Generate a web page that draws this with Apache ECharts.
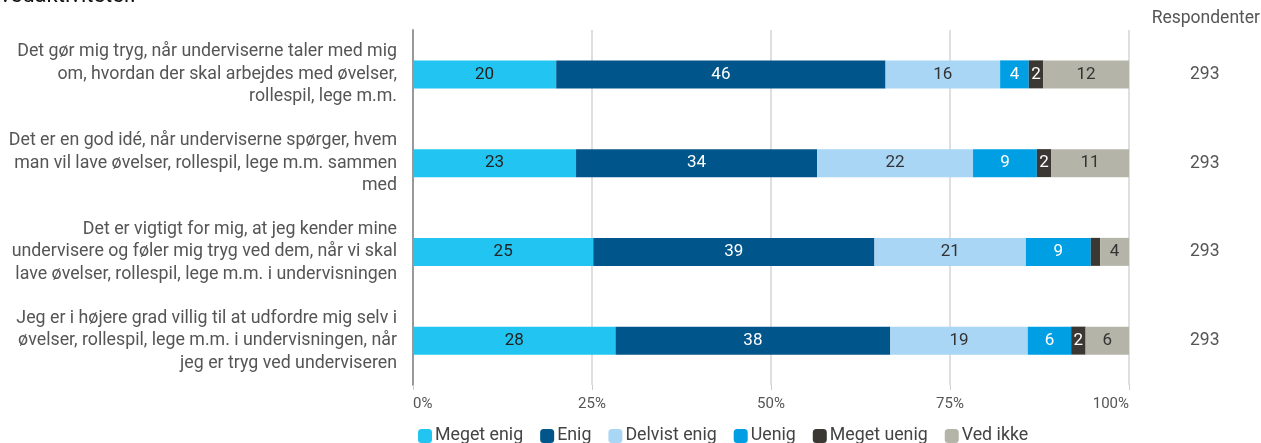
<!DOCTYPE html>
<html>
<head>
<meta charset="utf-8">
<script src="https://cdn.jsdelivr.net/npm/echarts@6/dist/echarts.min.js"></script>
<style>html,body{margin:0;padding:0;background:#fff}#c{width:1261px;height:443px}</style>
</head>
<body>
<div id="c"></div>
<script>
const categories = [
  "Det gør mig tryg, når underviserne taler med mig\nom, hvordan der skal arbejdes med øvelser,\nrollespil, lege m.m.",
  "Det er en god idé, når underviserne spørger, hvem\nman vil lave øvelser, rollespil, lege m.m. sammen\nmed",
  "Det er vigtigt for mig, at jeg kender mine\nundervisere og føler mig tryg ved dem, når vi skal\nlave øvelser, rollespil, lege m.m. i undervisningen",
  "Jeg er i højere grad villig til at udfordre mig selv i\nøvelser, rollespil, lege m.m. i undervisningen, når\njeg er tryg ved underviseren"
];
const respondents = [293, 293, 293, 293];
const seriesNames = ["Meget enig", "Enig", "Delvist enig", "Uenig", "Meget uenig", "Ved ikke"];
const megetEnig  = [20, 23, 25, 28];
const enig       = [46, 34, 39, 38];
const delvistEnig= [16, 22, 21, 19];
const uenig      = [4, 9, 9, 6];
const megetUenig = [2, 2, 1.3, 2];
const vedIkke    = [12, 11, 4, 6];
const xTicks = ["0%", "25%", "50%", "75%", "100%"];

const colors = ["#22c4f2", "#00558a", "#a9d6f5", "#009fe3", "#3b3833", "#b4b5a8"];
const labelColors = ["#222", "#fff", "#333", "#fff", "#fff", "#333"];
const allSeries = [megetEnig, enig, delvistEnig, uenig, megetUenig, vedIkke];
const totals = categories.map((_, i) => allSeries.reduce((s, arr) => s + arr[i], 0));

const chart = echarts.init(document.getElementById('c'));
chart.setOption({
  animation: false,
  textStyle: { fontFamily: 'Roboto' },
  graphic: [{
    type: 'text', left: 0, top: -15,
    style: { text: 'vedaktiviteter.', font: '22px Roboto', fill: '#111' }
  }],
  title: {
    text: 'Respondenter', right: 1, top: 10, padding: 0,
    textStyle: { fontSize: 17.5, fontWeight: 'normal', color: '#555', fontFamily: 'Roboto' }
  },
  legend: {
    left: 418, top: 427, padding: 0, itemWidth: 14, itemHeight: 14, itemGap: 17,
    icon: 'roundRect',
    textStyle: { fontSize: 17.8, color: '#444', padding: [0, 0, 0, -2] },
    data: seriesNames
  },
  grid: { left: 413, right: 132, top: 30, bottom: 58, containLabel: false },
  xAxis: {
    type: 'value', min: 0, max: 100, interval: 25,
    axisLabel: {
      fontSize: 15, color: '#555', margin: 12,
      alignMinLabel: 'left', alignMaxLabel: 'right',
      formatter: v => xTicks[Math.round(v / 25)]
    },
    axisLine: { show: false },
    axisTick: { show: true, length: 5, lineStyle: { color: '#ccc' } },
    splitLine: { show: true, lineStyle: { color: '#d4d4d4', width: 1.5 } }
  },
  yAxis: [{
    type: 'category', data: categories, inverse: true,
    axisLine: { show: true, lineStyle: { color: '#999', width: 2 } },
    axisTick: { show: false },
    axisLabel: { fontSize: 17.8, color: '#555', margin: 16, lineHeight: 22.5, align: 'right' }
  }, {
    type: 'category', data: respondents.map(String), inverse: true, position: 'right',
    axisLine: { show: false }, axisTick: { show: false },
    axisLabel: { fontSize: 17.5, color: '#555', margin: 61, align: 'left' }
  }],
  series: allSeries.map((arr, k) => ({
    name: seriesNames[k], type: 'bar', stack: 'all', barWidth: 28,
    itemStyle: { color: colors[k] },
    label: {
      show: true, position: 'inside', fontSize: 17, color: labelColors[k],
      formatter: p => (arr[p.dataIndex] >= 2 ? String(arr[p.dataIndex]) : '')
    },
    data: arr.map((v, i) => v / totals[i] * 100)
  }))
});
</script>
</body>
</html>
